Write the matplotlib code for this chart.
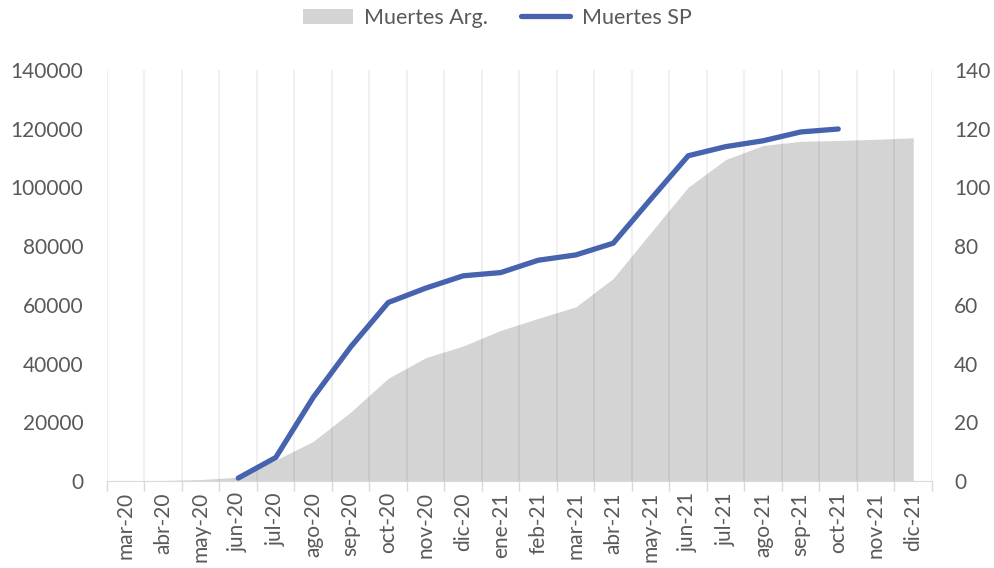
import numpy as np
import matplotlib.pyplot as plt
from matplotlib.patches import Patch
from matplotlib.lines import Line2D

# Meses (eje de categorías)
meses = ['mar-20', 'abr-20', 'may-20', 'jun-20', 'jul-20', 'ago-20', 'sep-20', 'oct-20',
         'nov-20', 'dic-20', 'ene-21', 'feb-21', 'mar-21', 'abr-21', 'may-21', 'jun-21',
         'jul-21', 'ago-21', 'sep-21', 'oct-21', 'nov-21', 'dic-21']

# Muertes acumuladas Argentina (eje izquierdo)
muertes_arg = [0, 200, 500, 1300, 7100, 13500, 23500, 35000, 42000, 46000, 51300, 55400,
               59300, 69000, 84600, 100100, 109500, 114300, 115700, 116000, 116400, 116900]

# Muertes acumuladas SP (eje derecho); sin dato antes de jun-20 y después de oct-21
muertes_sp = [np.nan, np.nan, np.nan, 1, 8, 28.5, 45.7, 60.8, 65.7, 69.9, 71, 75.2,
              77, 81, 96, 110.8, 113.9, 115.9, 118.9, 119.9, np.nan, np.nan]

plt.rcParams['font.family'] = ['Lato', 'DejaVu Sans']
txt = '#595959'
grid_col = '#d9d9d9'

fig = plt.figure(figsize=(9.95, 5.68), dpi=100)
ax = fig.add_axes([107 / 995, 1 - 481 / 568, 825 / 995, 411 / 568])
ax2 = ax.twinx()

x = np.arange(len(meses))
ax.fill_between(x, muertes_arg, 0, color='#d4d4d4', linewidth=0, zorder=1)
ax2.plot(x, muertes_sp, color='#4763af', linewidth=3.8, solid_capstyle='round',
         solid_joinstyle='round')

ax.set_xlim(-0.5, len(meses) - 0.5)
ax.set_ylim(0, 140000)
ax2.set_ylim(0, 140)
ax.set_yticks(np.arange(0, 140001, 20000))
ax2.set_yticks(np.arange(0, 141, 20))

ax.set_xticks(x)
ax.set_xticklabels(meses, rotation=90, fontsize=15, color=txt)
ax.set_xticks(np.arange(-0.5, len(meses), 1), minor=True)
ax.tick_params(axis='x', which='major', length=0, pad=8)
ax.tick_params(axis='x', which='minor', length=7, color=grid_col, width=1)
ax.grid(axis='x', which='minor', color='black', alpha=0.07, linewidth=1.2)
ax.set_axisbelow(False)

ax.tick_params(axis='y', length=0, labelsize=15, labelcolor=txt, pad=17)
ax2.tick_params(axis='y', length=0, labelsize=15, labelcolor=txt, pad=16)

for a in (ax, ax2):
    for s in ('top', 'left', 'right'):
        a.spines[s].set_visible(False)
    a.spines['bottom'].set_color(grid_col)
ax2.spines['bottom'].set_visible(False)

handles = [Patch(facecolor='#d4d4d4', edgecolor='none', label='Muertes Arg.'),
           Line2D([], [], color='#4763af', linewidth=3.8, solid_capstyle='round',
                  label='Muertes SP')]
fig.legend(handles=handles, loc='center', bbox_to_anchor=(0.5, 1 - 18 / 568), ncol=2,
           frameon=False, fontsize=15.5, labelcolor=txt, handlelength=2.3,
           handletextpad=0.55, columnspacing=1.5)

fig.savefig('out.png', dpi=100)
